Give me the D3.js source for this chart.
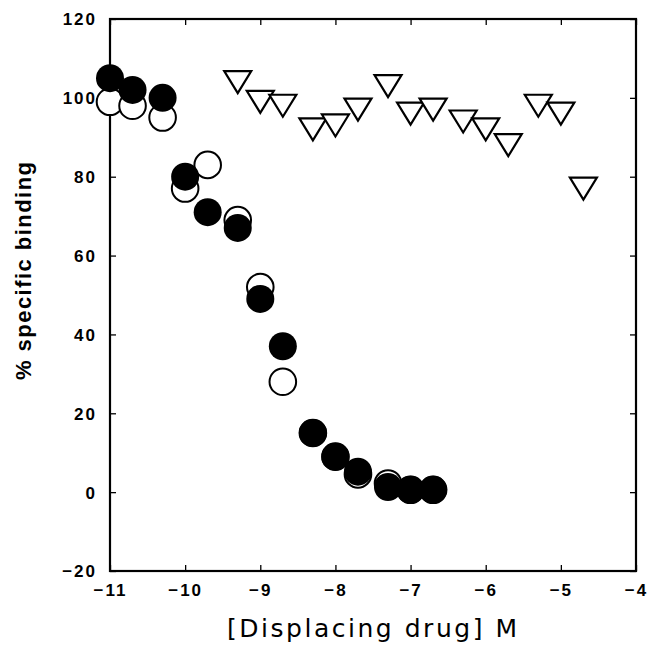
<!DOCTYPE html>
<html>
<head>
<meta charset="utf-8">
<script src="https://cdn.jsdelivr.net/npm/d3@7"></script>
<style>
  body { margin: 0; background: #fff; }
  svg { display: block; }
</style>
</head>
<body>
<script>
// log molar concentration of the displacing drug
const logConc = [-11, -10.7, -10.3, -10, -9.7, -9.3, -9, -8.7, -8.3, -8, -7.7, -7.3, -7, -6.7];
const filledBinding = [105, 102, 100, 80, 71, 67, 49, 37, 15, 9, 5.2, 1.3, 0.6, 0.6];
const openBinding = [99, 98, 95, 77, 83, 69, 52, 28, 15, 9, 4.5, 2.2, 0.6, 0.6];

const triConc = [-9.3, -9, -8.7, -8.3, -8, -7.7, -7.3, -7, -6.7, -6.3, -6, -5.7, -5.3, -5, -4.7];
const triBinding = [104, 99, 98, 92, 93, 97, 103, 96, 97, 94, 92, 88, 98, 96, 77];

const xTicks = [-11, -10, -9, -8, -7, -6, -5, -4];
const yTicks = [-20, 0, 20, 40, 60, 80, 100, 120];

const W = 650, H = 645;
const pLeft = 110, pRight = 636, pTop = 19, pBottom = 571;

const svg = d3.select("body").append("svg")
  .attr("width", W).attr("height", H);

const x = d3.scaleLinear().domain([-11, -4]).range([pLeft, pRight]);
const y = d3.scaleLinear().domain([-20, 120]).range([pBottom, pTop]);

const fmt = d => d < 0 ? "\u2212" + Math.abs(d) : String(d);

// axes, ticks pointing inward
const gx = svg.append("g").attr("transform", `translate(0,${pBottom})`)
  .call(d3.axisBottom(x).tickValues(xTicks).tickFormat(fmt).tickSizeInner(-6).tickSizeOuter(0).tickPadding(13));
const gy = svg.append("g").attr("transform", `translate(${pLeft},0)`)
  .call(d3.axisLeft(y).tickValues(yTicks).tickFormat(fmt).tickSizeInner(-6).tickSizeOuter(0).tickPadding(13));
const gxt = svg.append("g").attr("transform", `translate(0,${pTop})`)
  .call(d3.axisTop(x).tickValues(xTicks).tickFormat("").tickSizeInner(-6).tickSizeOuter(0));
const gyr = svg.append("g").attr("transform", `translate(${pRight},0)`)
  .call(d3.axisRight(y).tickValues(yTicks).tickFormat("").tickSizeInner(-6).tickSizeOuter(0));

[gx, gy, gxt, gyr].forEach(g => {
  g.select(".domain").remove();
  g.selectAll("line").attr("stroke", "#000").attr("stroke-width", 1.3);
  g.selectAll("text")
    .attr("font-family", "'Liberation Sans', Arial, sans-serif")
    .attr("font-weight", "bold")
    .attr("font-size", 17)
    .attr("letter-spacing", 2)
    .attr("fill", "#000");
});
gy.selectAll("text").attr("dy", "0.35em");

svg.append("rect")
  .attr("x", pLeft).attr("y", pTop)
  .attr("width", pRight - pLeft).attr("height", pBottom - pTop)
  .attr("fill", "none").attr("stroke", "#000").attr("stroke-width", 2.2);

// triangles (down-pointing)
const tw = 27, th = 22;
svg.append("g").selectAll("path")
  .data(triConc.map((c, i) => [c, triBinding[i]]))
  .join("path")
  .attr("d", d => {
    const cx = x(d[0]), cy = y(d[1]);
    return `M${cx - tw / 2},${cy - th / 2}L${cx + tw / 2},${cy - th / 2}L${cx},${cy + th / 2}Z`;
  })
  .attr("fill", "#fff").attr("stroke", "#000").attr("stroke-width", 2.2)
  .attr("stroke-linejoin", "miter");

// open circles
svg.append("g").selectAll("circle")
  .data(logConc.map((c, i) => [c, openBinding[i]]))
  .join("circle")
  .attr("cx", d => x(d[0])).attr("cy", d => y(d[1]))
  .attr("r", 13.3)
  .attr("fill", "#fff").attr("stroke", "#000").attr("stroke-width", 2);

// filled circles
svg.append("g").selectAll("circle")
  .data(logConc.map((c, i) => [c, filledBinding[i]]))
  .join("circle")
  .attr("cx", d => x(d[0])).attr("cy", d => y(d[1]))
  .attr("r", 14)
  .attr("fill", "#000");

// axis titles
svg.append("text")
  .attr("x", (pLeft + pRight) / 2 - 1).attr("y", 637)
  .attr("text-anchor", "middle")
  .attr("font-family", "'DejaVu Sans', sans-serif")
  .attr("font-size", 25)
  .attr("textLength", 290).attr("lengthAdjust", "spacing")
  .text("[Displacing drug] M");

svg.append("text")
  .attr("transform", `translate(31,${(pTop + pBottom) / 2 - 24}) rotate(-90)`)
  .attr("text-anchor", "middle")
  .attr("font-family", "'Liberation Sans', Arial, sans-serif")
  .attr("font-weight", "bold")
  .attr("font-size", 22)
  .attr("textLength", 218).attr("lengthAdjust", "spacing")
  .text("% specific binding");
</script>
</body>
</html>
